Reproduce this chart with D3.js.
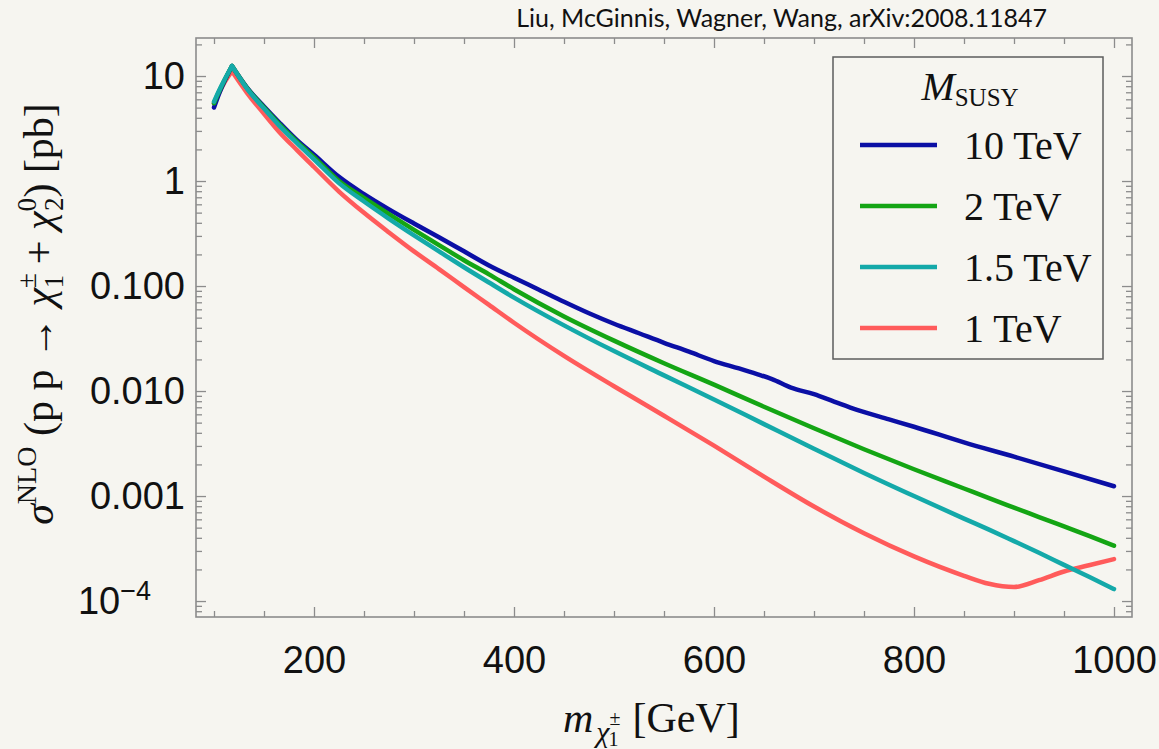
<!DOCTYPE html>
<html>
<head>
<meta charset="utf-8">
<script src="https://cdn.jsdelivr.net/npm/d3@7"></script>
<style>
  body { margin: 0; background: #f6f5f0; }
</style>
</head>
<body>
<div id="chart"></div>
<script>
// chargino mass grid [GeV]
const mass = [100, 105, 110, 118, 133, 150, 165, 183, 200, 225, 250, 275, 300, 325, 350, 375, 400,
    450, 500, 550, 600, 650, 700, 750, 800, 850, 875, 900, 925, 950, 975, 1000];
const massBlue = [100, 105, 110, 118, 133, 150, 165, 183, 200, 225, 250, 275, 300, 325, 350, 375, 400,
    425, 450, 475, 500, 525, 550, 575, 600, 625, 643, 658, 677, 700, 720, 743, 775, 800, 850, 900, 950, 1000];

// sigma NLO [pb]
const sigma10 = [5.01, 6.76, 8.71, 12.45, 7.76, 5.13, 3.63, 2.45, 1.78, 1.096, 0.750, 0.537, 0.394, 0.292, 0.214, 0.157, 0.120,
    0.0923, 0.0708, 0.0550, 0.0437, 0.0355, 0.0288, 0.0237, 0.0193, 0.0164, 0.0145, 0.0130, 0.0108, 0.00933, 0.00794, 0.00661,
    0.00537, 0.00457, 0.00324, 0.00237, 0.00172, 0.00124];
const sigma2 = [5.50, 7.08, 8.91, 12.45, 7.67, 5.01, 3.51, 2.37, 1.69, 1.00, 0.692, 0.484, 0.343, 0.245, 0.176, 0.129, 0.0933,
    0.0513, 0.0302, 0.0184, 0.0115, 0.00708, 0.00442, 0.00279, 0.00180, 0.00118, 0.000955, 0.000776, 0.000631, 0.000513, 0.000417, 0.000337];
const sigma15 = [5.69, 7.24, 9.02, 12.45, 7.59, 4.90, 3.39, 2.29, 1.61, 0.955, 0.638, 0.437, 0.304, 0.214, 0.151, 0.108, 0.0776,
    0.0422, 0.0240, 0.0141, 0.00832, 0.00484, 0.00282, 0.00166, 0.00100, 0.000610, 0.000479, 0.000372, 0.000288, 0.000221, 0.000170, 0.000130];
const sigma1 = [5.50, 6.92, 8.51, 11.09, 6.92, 4.37, 2.95, 1.97, 1.36, 0.794, 0.498, 0.324, 0.214, 0.145, 0.0977, 0.0661, 0.0447,
    0.0216, 0.0111, 0.00582, 0.00302, 0.00153, 0.000794, 0.000442, 0.000266, 0.000174, 0.000146, 0.000136, 0.000158, 0.000191, 0.000219, 0.000251];

const legendLabels = ["10 TeV", "2 TeV", "1.5 TeV", "1 TeV"];
const colors = ["#0b0fa5", "#14a514", "#14a9a9", "#ff5b5b"];
const xTicks = [200, 400, 600, 800, 1000];
const yTicks = [10, 1, 0.1, 0.01, 0.001, 0.0001];
const yTickLabels = ["10", "1", "0.100", "0.010", "0.001", "10"];

const W = 1159, H = 749;
const margin = { top: 38, right: 27, bottom: 132, left: 196 };
const width = W - margin.left - margin.right;
const height = H - margin.top - margin.bottom;
const frameColor = "#8c8c8c";
const serif = "'Liberation Serif', 'Times New Roman', serif";
const sans = "'Liberation Sans', Arial, sans-serif";

const svg = d3.select("#chart").append("svg")
    .attr("width", W)
    .attr("height", H)
    .style("background", "#f6f5f0");

const g = svg.append("g")
    .attr("transform", "translate(" + margin.left + "," + margin.top + ")");

const x = d3.scaleLinear().domain([82, 1018]).range([0, width]);
const y = d3.scaleLog().domain([Math.pow(10, -4.152), Math.pow(10, 1.362)]).range([height, 0]);

// minor tick positions
const xMinor = d3.range(100, 1001, 50).filter(v => !xTicks.includes(v));
const yMinor = [];
for (let e = -5; e <= 1; e++) {
    for (let k = 2; k <= 9; k++) {
        const v = k * Math.pow(10, e);
        if (v >= y.domain()[0] && v <= y.domain()[1]) yMinor.push(v);
    }
}

const tidy = sel => {
    sel.select(".domain").remove();
    sel.selectAll("line").attr("stroke", frameColor).attr("stroke-width", 1.3);
};

// bottom / top
g.append("g").attr("transform", "translate(0," + height + ")")
    .call(d3.axisBottom(x).tickValues(xMinor).tickSize(-6).tickFormat("")).call(tidy);
g.append("g").attr("transform", "translate(0," + height + ")")
    .call(d3.axisBottom(x).tickValues(xTicks).tickSize(-10).tickPadding(29).tickFormat(d3.format("d")))
    .call(tidy)
    .selectAll("text").attr("font-family", sans).attr("font-size", 38).attr("fill", "#111");
g.append("g").call(d3.axisTop(x).tickValues(xMinor).tickSize(-6).tickFormat("")).call(tidy);
g.append("g").call(d3.axisTop(x).tickValues(xTicks).tickSize(-10).tickFormat("")).call(tidy);

// left / right
g.append("g").call(d3.axisLeft(y).tickValues(yMinor).tickSize(-6).tickFormat("")).call(tidy);
const yAx = g.append("g")
    .call(d3.axisLeft(y).tickValues(yTicks).tickSize(-10).tickPadding(11).tickFormat((d, i) => yTickLabels[i]))
    .call(tidy);
yAx.selectAll("text").attr("font-family", sans).attr("font-size", 38).attr("fill", "#111");
// 10^-4 label with exponent
yAx.selectAll("text").filter(d => d === 0.0001)
    .attr("dx", -34)
    .append("tspan").attr("font-size", 27).attr("dy", -14).text("\u22124");
g.append("g").attr("transform", "translate(" + width + ",0)")
    .call(d3.axisRight(y).tickValues(yMinor).tickSize(-6).tickFormat("")).call(tidy);
g.append("g").attr("transform", "translate(" + width + ",0)")
    .call(d3.axisRight(y).tickValues(yTicks).tickSize(-10).tickFormat("")).call(tidy);

// frame
g.append("rect")
    .attr("width", width).attr("height", height)
    .attr("fill", "none").attr("stroke", frameColor).attr("stroke-width", 1.6);

g.append("clipPath").attr("id", "clip")
    .append("rect").attr("width", width).attr("height", height);

// curves (red drawn first, teal on top)
const series = [
    { m: mass, s: sigma1, color: colors[3] },
    { m: massBlue, s: sigma10, color: colors[0] },
    { m: mass, s: sigma2, color: colors[1] },
    { m: mass, s: sigma15, color: colors[2] }
];
const line = d3.line().x(d => x(d[0])).y(d => y(d[1])).curve(d3.curveMonotoneX);
// keep the threshold cusp sharp: smooth the rise and the fall separately
const pathOf = d => {
    const pts = d.m.map((m, i) => [m, d.s[i]]);
    const k = d3.maxIndex(d.s);
    return line(pts.slice(0, k + 1)) + line(pts.slice(k));
};
g.append("g").attr("clip-path", "url(#clip)")
    .selectAll("path")
    .data(series)
    .enter()
    .append("path")
    .attr("fill", "none")
    .attr("stroke", d => d.color)
    .attr("stroke-width", 4.5)
    .attr("stroke-linejoin", "round")
    .attr("stroke-linecap", "round")
    .attr("d", pathOf);

// legend
const leg = svg.append("g").attr("transform", "translate(833,57)");
leg.append("rect").attr("width", 270).attr("height", 302)
    .attr("fill", "#f6f5f0").attr("stroke", "#5c5c5c").attr("stroke-width", 1.5);
const lt = leg.append("text").attr("x", 137).attr("y", 43)
    .attr("text-anchor", "middle").attr("font-family", serif).attr("fill", "#111");
lt.append("tspan").attr("font-size", 40).attr("font-style", "italic").text("M");
lt.append("tspan").attr("font-size", 25).attr("dy", 6).text("SUSY");
legendLabels.forEach((lab, i) => {
    const yy = 88 + i * 61;
    leg.append("line").attr("x1", 27).attr("x2", 104).attr("y1", yy).attr("y2", yy)
        .attr("stroke", colors[i]).attr("stroke-width", 4.7);
    leg.append("text").attr("x", 131).attr("y", yy + 14)
        .attr("font-family", serif).attr("font-size", 40).attr("fill", "#111").text(lab);
});

// x label
const xl = svg.append("text").attr("x", 563).attr("y", 732)
    .attr("font-family", serif).attr("fill", "#111").attr("font-size", 42);
xl.append("tspan").attr("font-style", "italic").text("m");
xl.append("tspan").attr("font-style", "italic").attr("font-size", 30).attr("dy", 10).attr("dx", 3).text("\u03c7");
xl.append("tspan").attr("font-size", 20).attr("dy", -17).text("\u00b1");
xl.append("tspan").attr("font-size", 20).attr("dy", 21).attr("dx", -12).text("1");
xl.append("tspan").attr("dy", -14).attr("dx", 14).text("[GeV]");

// y label
const yl = svg.append("text").attr("transform", "translate(53,314) rotate(-90)")
    .attr("text-anchor", "middle").attr("font-family", serif).attr("fill", "#111").attr("font-size", 42);
yl.append("tspan").attr("font-style", "italic").text("\u03c3");
yl.append("tspan").attr("font-size", 28).attr("dy", -17).text("NLO");
yl.append("tspan").attr("dy", 17).text(" (p p \u2192 ");
yl.append("tspan").attr("font-style", "italic").text("\u03c7");
yl.append("tspan").attr("font-size", 27).attr("dy", -17).text("\u00b1");
yl.append("tspan").attr("font-size", 27).attr("dy", 27).attr("dx", -15).text("1");
yl.append("tspan").attr("dy", -10).text(" + ");
yl.append("tspan").attr("font-style", "italic").text("\u03c7");
yl.append("tspan").attr("font-size", 27).attr("dy", -17).text("0");
yl.append("tspan").attr("font-size", 27).attr("dy", 27).attr("dx", -13).text("2");
yl.append("tspan").attr("dy", -10).text(") [pb]");

// credit
svg.append("text").attr("x", 1047).attr("y", 27).attr("text-anchor", "end")
    .attr("font-family", "Lato, 'Open Sans', sans-serif").attr("font-size", 25).attr("fill", "#111")
    .text("Liu, McGinnis, Wagner, Wang, arXiv:2008.11847");
</script>
</body>
</html>
